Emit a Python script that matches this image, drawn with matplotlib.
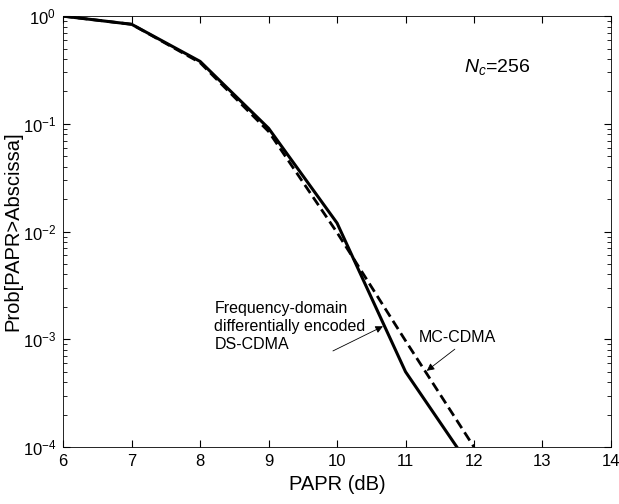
import matplotlib
matplotlib.use("Agg")
import matplotlib.pyplot as plt
from matplotlib.ticker import LogLocator, NullFormatter

plt.rcParams["font.family"] = ["Liberation Sans", "DejaVu Sans"]
plt.rcParams["mathtext.fontset"] = "custom"
plt.rcParams["mathtext.it"] = "Liberation Sans:italic"
plt.rcParams["mathtext.rm"] = "Liberation Sans"

papr_ds = [6, 7, 8, 9, 10, 11, 11.75]
prob_ds = [1.0, 0.84, 0.38, 0.091, 0.012, 5.0e-4, 1.0e-4]

papr_mc = [6, 7, 8, 9, 10, 11, 12]
prob_mc = [1.0, 0.84, 0.37, 0.085, 0.0098, 9.7e-4, 1.0e-4]

fig = plt.figure(figsize=(6.19, 5.04), dpi=100)
ax = fig.add_axes([0.102, 0.113, 0.885, 0.855])

ax.semilogy(papr_ds, prob_ds, "k-", lw=2.2)
ax.semilogy(papr_mc, prob_mc, "k--", lw=2.0, dashes=(3.5, 1.8))

ax.set_xlim(6, 14)
ax.set_ylim(1e-4, 1)
ax.set_xticks(range(6, 15))
ax.yaxis.set_minor_locator(LogLocator(base=10, subs=range(2, 10)))
ax.yaxis.set_minor_formatter(NullFormatter())
ax.tick_params(which="both", direction="in", top=True, right=True, labelsize=12)
ax.tick_params(which="major", length=5, pad=5)
ax.tick_params(which="minor", length=3)
for s in ax.spines.values():
    s.set_linewidth(0.6)

ax.set_xlabel("PAPR (dB)", fontsize=14.5, labelpad=4)
ax.set_ylabel("Prob[PAPR>Abscissa]", fontsize=14.5, labelpad=0)

ax.text(11.86, 0.34, r"$N_c$=256", fontsize=14, va="center")

ax.text(8.21, 1.32e-3, "Frequency-domain\ndifferentially encoded\nDS-CDMA",
        fontsize=11.5, ha="left", va="center", linespacing=1.25)
ax.annotate("", xy=(10.67, 1.32e-3), xytext=(9.94, 7.8e-4),
            arrowprops=dict(arrowstyle="-|>", color="k", lw=0.6,
                            mutation_scale=11, shrinkA=0, shrinkB=0))

ax.text(11.19, 1.05e-3, "MC-CDMA", fontsize=11.5, ha="left", va="center")
ax.annotate("", xy=(11.31, 5.1e-4), xytext=(11.72, 8.1e-4),
            arrowprops=dict(arrowstyle="-|>", color="k", lw=0.6,
                            mutation_scale=11, shrinkA=0, shrinkB=0))

fig.savefig("out.png")
